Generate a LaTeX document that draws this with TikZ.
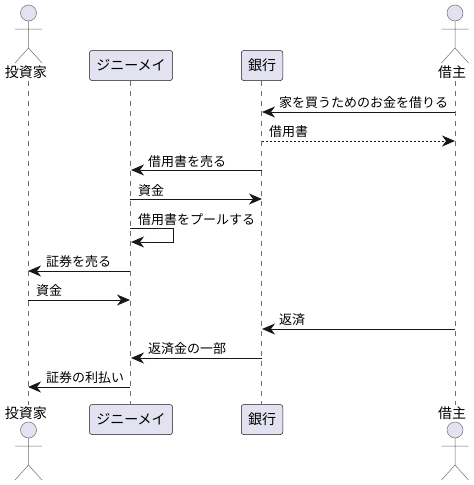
\documentclass[tikz,border=0pt]{standalone}
\usepackage{fontspec}
\setmainfont{Noto Sans CJK JP}
\usepackage{xcolor}
\usetikzlibrary{arrows.meta,positioning}
\definecolor{partfill}{RGB}{226,226,240}
\definecolor{partline}{RGB}{24,24,24}
\definecolor{lifeline}{RGB}{110,110,110}
\tikzset{
  partbox/.style={rectangle, draw=partline, fill=partfill, line width=0.5pt, rounded corners=2.5pt, minimum height=30pt, inner sep=0pt, font=\fontsize{14}{16}\selectfont},
  actorname/.style={inner sep=0pt, minimum height=16pt, text height=11pt, text depth=2pt, font=\fontsize{14}{16}\selectfont},
  msglabel/.style={anchor=west, inner sep=0pt, text height=11pt, text depth=2pt, font=\fontsize{13}{15}\selectfont},
  lifelinestyle/.style={draw=lifeline, line width=0.5pt, dash pattern=on 5pt off 5pt},
  msgarrow/.style={-{Stealth[length=13pt,width=11pt,inset=4pt]}, line width=1pt, draw=partline},
  stickman/.pic={
    \draw[fill=partfill, draw=lifeline, line width=0.5pt] (0,0) circle (8);
    \draw[draw=lifeline, line width=0.5pt] (0,8) -- (0,35) (-13.5,16) -- (13.5,16) (-13.5,50) -- (0,35) -- (13.5,50);
  }
}
\begin{document}
\begin{tikzpicture}[x=1pt, y=-1pt]
  \useasboundingbox (0,0) rectangle (474,485);

  % top row
  \pic at (28.5,13) {stickman};
  \pic at (455,13) {stickman};
  \node[actorname] (investor) at (26,73) {投資家};
  \node[partbox, minimum width=83pt] (ginnie) at (131,65.5) {ジニーメイ};
  \node[partbox, minimum width=41.5pt] (bank) at (262,65.5) {銀行};
  \node[actorname] (borrower) at (452,73) {借主};

  % bottom row
  \node[actorname] (investorfoot) at (26,413.5) {投資家};
  \node[partbox, minimum width=83pt] (ginniefoot) at (131,419.5) {ジニーメイ};
  \node[partbox, minimum width=41.5pt] (bankfoot) at (262,419.5) {銀行};
  \node[actorname] (borrowerfoot) at (452,413.5) {借主};
  \pic at (28.5,430) {stickman};
  \pic at (455,430) {stickman};

  % lifeline ends
  \coordinate (investortop) at (28.5,81);   \coordinate (investorend) at (28.5,405);
  \coordinate (ginnietop) at (130.5,81);    \coordinate (ginnieend) at (130.5,404.5);
  \coordinate (banktop) at (261.5,81);      \coordinate (bankend) at (261.5,404.5);
  \coordinate (borrowertop) at (455,81);    \coordinate (borrowerend) at (455,405);

  \draw[lifelinestyle] (investortop) -- (investorend);
  \draw[lifelinestyle] (ginnietop) -- (ginnieend);
  \draw[lifelinestyle] (banktop) -- (bankend);
  \draw[lifelinestyle] (borrowertop) -- (borrowerend);

  % message ends
  \coordinate (a1) at (455,112);   \coordinate (b1) at (262,112);
  \coordinate (a2) at (262,141);   \coordinate (b2) at (455,141);
  \coordinate (a3) at (262,170);   \coordinate (b3) at (131,170);
  \coordinate (a4) at (130,199);   \coordinate (b4) at (262,199);
  \coordinate (a5) at (130,228);   \coordinate (b5) at (131,242);
  \coordinate (a6) at (130,271);   \coordinate (b6) at (28,271);
  \coordinate (a7) at (28,300);    \coordinate (b7) at (130,300);
  \coordinate (a8) at (455,329);   \coordinate (b8) at (262,329);
  \coordinate (a9) at (262,358);   \coordinate (b9) at (131,358);
  \coordinate (a10) at (130,387);  \coordinate (b10) at (28,387);

  \draw[msgarrow] (a1) -- (b1);
  \draw[msgarrow, dash pattern=on 2pt off 2pt] (a2) -- (b2);
  \draw[msgarrow] (a3) -- (b3);
  \draw[msgarrow] (a4) -- (b4);
  \draw[msgarrow] (a5) -- ++(43,0) -- ++(0,14) -- (b5);
  \draw[msgarrow] (a6) -- (b6);
  \draw[msgarrow] (a7) -- (b7);
  \draw[msgarrow] (a8) -- (b8);
  \draw[msgarrow] (a9) -- (b9);
  \draw[msgarrow] (a10) -- (b10);

  % message labels
  \node[msglabel] (loanreq) at (279,102.5) {家を買うためのお金を借りる};
  \node[msglabel] (note) at (269,131.5) {借用書};
  \node[msglabel] (sellnote) at (148,161.5) {借用書を売る};
  \node[msglabel] (funds) at (138,190.5) {資金};
  \node[msglabel] (pool) at (138,219.5) {借用書をプールする};
  \node[msglabel] (sellsec) at (46,261.5) {証券を売る};
  \node[msglabel] (secfunds) at (36,290.5) {資金};
  \node[msglabel] (repay) at (279,319.5) {返済};
  \node[msglabel] (part) at (148,348.5) {返済金の一部};
  \node[msglabel] (interest) at (46,377.5) {証券の利払い};
\end{tikzpicture}
\end{document}
